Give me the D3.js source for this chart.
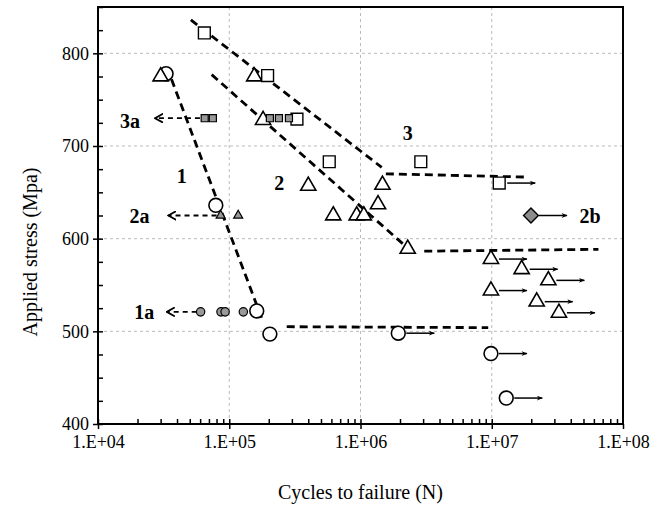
<!DOCTYPE html>
<html>
<head>
<meta charset="utf-8">
<script src="https://cdn.jsdelivr.net/npm/d3@7"></script>
<style>
  body { margin: 0; background: #fff; }
  text { font-family: "Liberation Serif", "Times New Roman", serif; fill: #000; }
</style>
</head>
<body>
<div id="chart"></div>
<script>
// series: [cycles, stress, runout]
const circles = [[3.3e4, 778, 0], [7.9e4, 636, 0], [1.62e5, 522, 0], [2.04e5, 497, 0],
  [1.94e6, 498, 1], [9.86e6, 476, 1], [1.29e7, 428, 1]]
const circlesA = [[6.05e4, 521], [8.65e4, 521], [9.3e4, 521], [1.28e5, 521]]
const triangles = [[3.0e4, 775, 0], [1.55e5, 775, 0], [1.81e5, 728, 0], [4.0e5, 657, 0],
  [6.2e5, 625, 0], [9.35e5, 625, 0], [1.06e6, 625, 0], [1.36e6, 637, 0], [1.47e6, 658, 0],
  [2.29e6, 589, 0], [9.86e6, 578, 1], [1.69e7, 567, 1], [2.7e7, 555, 1],
  [9.86e6, 544, 1], [2.2e7, 532, 1], [3.25e7, 520, 1]]
const trianglesA = [[8.6e4, 625], [1.17e5, 625]]
const squares = [[6.46e4, 822, 0], [1.96e5, 776, 0], [3.28e5, 729, 0], [5.78e5, 683, 0],
  [2.88e6, 683, 0], [1.14e7, 660, 1]]
const squaresA = [[6.5e4, 730], [7.5e4, 730], [2.04e5, 730], [2.39e5, 730], [2.85e5, 730]]
const diamonds = [[1.99e7, 625, 1]]

// dashed trend lines
const trendLines = [
  [[3.63e4, 772], [1.77e5, 514]], [[2.74e5, 505], [9.4e6, 504]],
  [[7.35e4, 777], [2.2e6, 592]], [[3.06e6, 586.5], [6.5e7, 588.5]],
  [[5.1e4, 836], [1.45e6, 677]], [[1.56e6, 670], [1.79e7, 666.5]]
]
// dashed arrows pointing left: [from, to, stress]
const leftArrows = [[5.98e4, 2.72e4, 730], [8.0e4, 3.43e4, 625], [5.65e4, 3.34e4, 521]]
const labels = [["3a", 1.75e4, 727], ["2a", 2.07e4, 625], ["1a", 2.25e4, 521],
  ["1", 4.35e4, 668], ["2", 2.4e5, 660], ["3", 2.29e6, 714], ["2b", 5.6e7, 624]]

const xMajor = [1e4, 1e5, 1e6, 1e7, 1e8]
const yMajor = [400, 500, 600, 700, 800]

const W = 662, H = 506
const margin = {top: 7, right: 39, bottom: 82, left: 98}
const width = W - margin.left - margin.right
const height = H - margin.top - margin.bottom

const svg = d3.select("#chart").append("svg")
  .attr("width", W).attr("height", H)

const g = svg.append("g")
  .attr("transform", "translate(" + margin.left + "," + margin.top + ")")

const x = d3.scaleLog().domain([1e4, 1e8]).range([0, width])
const y = d3.scaleLinear().domain([400, 850]).range([height, 0])

// grid
g.append("g").selectAll("line")
  .data(xMajor.slice(1, -1))
  .join("line")
  .attr("x1", d => x(d)).attr("x2", d => x(d))
  .attr("y1", 0).attr("y2", height)
  .attr("stroke", "#bbb").attr("stroke-dasharray", "3,3")
g.append("g").selectAll("line")
  .data(yMajor.slice(1))
  .join("line")
  .attr("y1", d => y(d)).attr("y2", d => y(d))
  .attr("x1", 0).attr("x2", width)
  .attr("stroke", "#bbb").attr("stroke-dasharray", "3,3")

// axes
const xMinor = []
for (let e = 4; e < 8; e++) for (let k = 1; k < 10; k++) xMinor.push(k * Math.pow(10, e))
const yMinor = d3.range(400, 851, 25)

g.append("g").attr("transform", "translate(0," + height + ")")
  .call(d3.axisBottom(x).tickValues(xMajor).tickSize(5).tickPadding(6)
    .tickFormat(d => "1.E+" + String(Math.round(Math.log10(d))).padStart(2, "0")))
g.append("g").attr("transform", "translate(0," + height + ")")
  .call(d3.axisBottom(x).tickValues(xMinor).tickSize(-5).tickFormat(""))
g.append("g")
  .call(d3.axisLeft(y).tickValues(yMajor).tickSize(5).tickPadding(4))
g.append("g")
  .call(d3.axisLeft(y).tickValues(yMinor).tickSize(-5).tickFormat(""))

g.selectAll(".domain").remove()
g.selectAll(".tick line").attr("stroke", "#000").attr("stroke-width", 1.5)
g.selectAll(".tick text").style("font-size", "18px")
  .style("font-family", "'Liberation Serif', serif")

g.append("rect")
  .attr("width", width).attr("height", height)
  .attr("fill", "none").attr("stroke", "#000").attr("stroke-width", 2)

// axis titles
svg.append("text")
  .attr("x", margin.left + width / 2).attr("y", 492)
  .attr("text-anchor", "middle").attr("dominant-baseline", "central")
  .style("font-size", "20px")
  .text("Cycles to failure (N)")
svg.append("text")
  .attr("transform", "translate(30," + (margin.top + 245) + ") rotate(-90)")
  .attr("text-anchor", "middle").attr("dominant-baseline", "central")
  .style("font-size", "20px")
  .text("Applied stress (Mpa)")

// arrow heads
const defs = svg.append("defs")
defs.append("marker")
  .attr("id", "solid").attr("viewBox", "0 0 10 10")
  .attr("refX", 9).attr("refY", 5)
  .attr("markerWidth", 9).attr("markerHeight", 6)
  .attr("markerUnits", "userSpaceOnUse").attr("orient", "auto")
  .append("path").attr("d", "M0,1 L10,5 L0,9 L3,5 Z").attr("fill", "#000")
defs.append("marker")
  .attr("id", "open").attr("viewBox", "0 0 10 10")
  .attr("refX", 9).attr("refY", 5)
  .attr("markerWidth", 9).attr("markerHeight", 10)
  .attr("markerUnits", "userSpaceOnUse").attr("orient", "auto")
  .append("path").attr("d", "M0,0 L9,5 L0,10").attr("fill", "none")
  .attr("stroke", "#000").attr("stroke-width", 2)

// trend lines
const line = d3.line().x(d => x(d[0])).y(d => y(d[1]))
g.append("g").selectAll("path")
  .data(trendLines)
  .join("path")
  .attr("d", line)
  .attr("fill", "none").attr("stroke", "#000")
  .attr("stroke-width", 2.8).attr("stroke-dasharray", "8,5")

// dashed left arrows
g.append("g").selectAll("line")
  .data(leftArrows)
  .join("line")
  .attr("x1", d => x(d[0])).attr("x2", d => x(d[1]))
  .attr("y1", d => y(d[2])).attr("y2", d => y(d[2]))
  .attr("stroke", "#000").attr("stroke-width", 1.8)
  .attr("stroke-dasharray", "5,4")
  .attr("marker-end", "url(#open)")

// runout arrows
const runouts = [...circles, ...triangles, ...squares, ...diamonds].filter(d => d[2])
g.append("g").selectAll("line")
  .data(runouts)
  .join("line")
  .attr("x1", d => x(d[0]) + 8).attr("x2", d => x(d[0]) + 36)
  .attr("y1", d => y(d[1])).attr("y2", d => y(d[1]))
  .attr("stroke", "#000").attr("stroke-width", 1.5)
  .attr("marker-end", "url(#solid)")

// markers
const sym = (type, size) => d3.symbol().type(type).size(size)
function drawPoints(data, shape, fill, strokeW, rot) {
  g.append("g").selectAll("path")
    .data(data)
    .join("path")
    .attr("transform", d => "translate(" + x(d[0]) + "," + y(d[1]) + ") rotate(" + (rot || 0) + ")")
    .attr("d", shape)
    .attr("fill", fill).attr("stroke", "#000").attr("stroke-width", strokeW)
}
drawPoints(circles, sym(d3.symbolCircle, 150), "#fff", 1.6)
drawPoints(triangles, sym(d3.symbolTriangle, 100), "#fff", 1.6)
drawPoints(squares, sym(d3.symbolSquare, 140), "#fff", 1.4)
drawPoints(circlesA, sym(d3.symbolCircle, 55), "#999", 1.2)
drawPoints(trianglesA, sym(d3.symbolTriangle, 35), "#999", 1.2)
drawPoints(squaresA, sym(d3.symbolSquare, 50), "#999", 1.2)
drawPoints(diamonds, sym(d3.symbolSquare, 110), "#8c8c8c", 1.4, 45)

// text labels
g.append("g").selectAll("text")
  .data(labels)
  .join("text")
  .attr("x", d => x(d[1])).attr("y", d => y(d[2]))
  .attr("text-anchor", "middle").attr("dominant-baseline", "central")
  .style("font-size", "20px").style("font-weight", "bold")
  .text(d => d[0])
</script>
</body>
</html>
